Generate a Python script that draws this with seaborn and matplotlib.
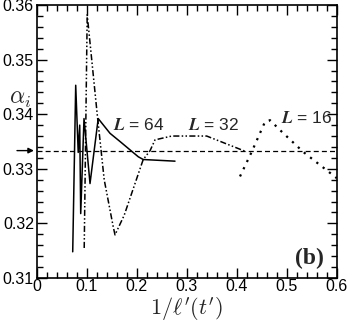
import numpy as np
import pandas as pd
import matplotlib
matplotlib.use("Agg")
import matplotlib.pyplot as plt
import seaborn as sns
from matplotlib.ticker import MultipleLocator

sns.set_theme(style="ticks")
plt.rcParams['font.family'] = ['Liberation Sans', 'DejaVu Sans']
plt.rcParams['mathtext.fontset'] = 'cm'

# L = 64 (solid)
x64 = [0.072, 0.078, 0.083, 0.086, 0.088, 0.0946, 0.1066, 0.123, 0.1466, 0.1666, 0.2032, 0.2132, 0.2766]
y64 = [0.3148, 0.3453, 0.3330, 0.3380, 0.3218, 0.3392, 0.3273, 0.3392, 0.3365, 0.3350, 0.3322, 0.3317, 0.3314]
# L = 32 (dash-dot-dot)
x32 = [0.095, 0.101, 0.110, 0.121, 0.135, 0.153, 0.1566, 0.175, 0.213, 0.2266, 0.2366, 0.27, 0.34, 0.42]
y32 = [0.3155, 0.3582, 0.3500, 0.3400, 0.3280, 0.3194, 0.3179, 0.3215, 0.3317, 0.3333, 0.3353, 0.3360, 0.3360, 0.3331]
# L = 16 (dotted)
x16 = [0.4066, 0.43, 0.4566, 0.4666, 0.49, 0.533, 0.6]
y16 = [0.3286, 0.3331, 0.3386, 0.3389, 0.3368, 0.3331, 0.3283]

labels = ["64", "32", "16"]

fig = plt.figure(figsize=(3.48, 3.22), dpi=100)
ax = fig.add_axes([0.1055, 0.1366, 0.862, 0.8479])

sns.lineplot(x=x64, y=y64, ax=ax, sort=False, color='black', lw=1.1, linestyle='-')
sns.lineplot(x=x32, y=y32, ax=ax, sort=False, color='black', lw=1.1, linestyle=(0, (4, 1.5, 1, 1.5, 1, 1.5)))
sns.lineplot(x=x16, y=y16, ax=ax, sort=False, color='black', lw=1.6, linestyle=(0, (1, 2.6)))

ax.axhline(1/3, color='black', lw=0.9, linestyle=(0, (4, 2.5)))

ax.set_xlim(0, 0.6)
ax.set_ylim(0.31, 0.36)
ax.xaxis.set_major_locator(MultipleLocator(0.1))
ax.xaxis.set_minor_locator(MultipleLocator(0.02))
ax.yaxis.set_major_locator(MultipleLocator(0.01))
ax.yaxis.set_minor_locator(MultipleLocator(0.002))
ax.xaxis.set_major_formatter(matplotlib.ticker.FuncFormatter(lambda v, p: "0" if abs(v) < 1e-9 else f"{v:.1f}"))
ax.yaxis.set_major_formatter(matplotlib.ticker.FuncFormatter(lambda v, p: f"{v:.2f}"))
ax.tick_params(which='both', direction='in', top=True, right=True, colors='black', labelsize=11.5)
ax.tick_params(axis='x', pad=1)
ax.tick_params(axis='y', pad=2)
ax.tick_params(which='major', length=7, width=1)
ax.tick_params(which='minor', length=4, width=1)
for s in ax.spines.values():
    s.set_color('black')
    s.set_linewidth(1.2)

ax.set_xlabel(r"$1/\ell'(t')$", fontsize=16)
ax.xaxis.set_label_coords(0.5, -0.115)
ax.xaxis.label.set_va('center')
ax.text(-0.034, 0.3428, r"$\alpha_i$", fontsize=17, ha='center', va='center', clip_on=False)

pos = [(0.152, 0.3380), (0.302, 0.3380), (0.488, 0.3393)]
for (tx, ty), lab in zip(pos, labels):
    ax.text(tx, ty, r"$\boldsymbol{L}$" + " = " + lab, fontsize=12.5, ha='left', va='center')

ax.text(0.545, 0.3136, "(b)", fontsize=17, fontweight='bold', family='Liberation Serif', ha='center', va='center')

ax.annotate("", xy=(0.0, 1/3), xytext=(-0.045, 1/3), annotation_clip=False,
            arrowprops=dict(arrowstyle='-|>', color='black', lw=1, mutation_scale=8))

fig.savefig("out.png", dpi=100)
